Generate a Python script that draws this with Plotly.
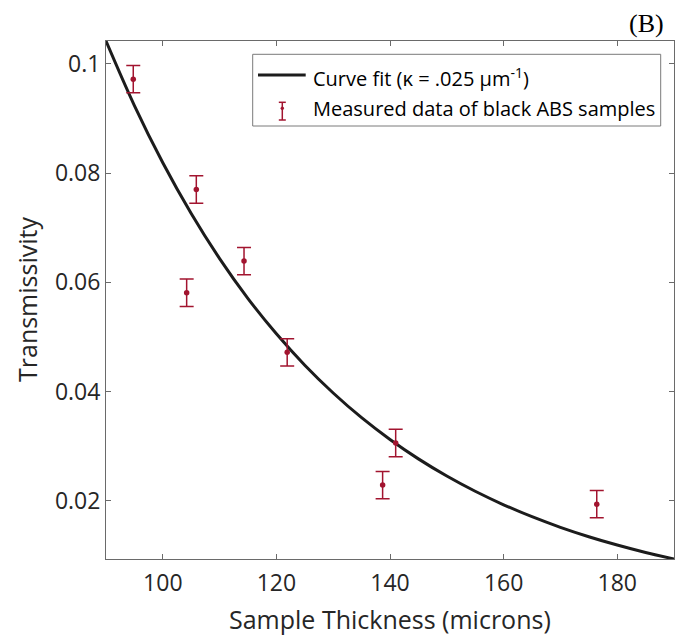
import plotly.graph_objects as go

# ---- data ----
thickness = [94.8, 104.2, 105.9, 114.3, 121.9, 138.7, 141.0, 176.4]
transmissivity = [0.0972, 0.0581, 0.0770, 0.0639, 0.0472, 0.0229, 0.0306, 0.0194]
errors = [0.0025, 0.0025, 0.0025, 0.0025, 0.0025, 0.0025, 0.0025, 0.0025]

fit_x = [90, 95, 100, 105, 110, 115, 120, 125, 130, 135, 140,
         145, 150, 155, 160, 165, 170, 175, 180, 185, 190]
fit_y = [0.10419, 0.09237, 0.08190, 0.07261, 0.06436, 0.05704, 0.05058,
         0.04483, 0.03975, 0.03523, 0.03124, 0.02769, 0.02455, 0.02176,
         0.01929, 0.01710, 0.01516, 0.01344, 0.01192, 0.01056, 0.00936]

x_ticks = [100, 120, 140, 160, 180]
y_ticks = [0.02, 0.04, 0.06, 0.08, 0.1]
y_tick_labels = ["0.02", "0.04", "0.06", "0.08", "0.1"]

legend_labels = ["Curve fit (\u03ba = .025 \u03bcm<sup>-1</sup>)",
                 "Measured data of black ABS samples"]

RED = "rgb(162,20,47)"
CURVE = "#1c1c1c"
AXIS = "#6a6a6a"
TXT = "#262626"
FONT = "Open Sans"

W, H = 683, 638
L, R, T, B = 106, 9, 41, 79
PW, PH = W - L - R, H - T - B


def px(xp):
    return (xp - L) / PW


def py(yp):
    return (H - B - yp) / PH


fig = go.Figure()

fig.add_trace(go.Scatter(
    x=fit_x, y=fit_y, mode="lines", line=dict(color=CURVE, width=3, shape="spline"),
    showlegend=False, hoverinfo="skip"))

fig.add_trace(go.Scatter(
    x=thickness, y=transmissivity, mode="markers",
    marker=dict(color=RED, size=5.5),
    error_y=dict(type="data", array=errors, visible=True, color=RED,
                 thickness=1.5, width=7),
    showlegend=False))

axis_common = dict(
    showgrid=False, zeroline=False, showline=True, linecolor=AXIS, linewidth=1,
    mirror="ticks", ticks="inside", ticklen=5, tickcolor=AXIS, tickwidth=1,
    tickfont=dict(family=FONT, size=23, color=TXT))

fig.update_xaxes(range=[90, 190], tickvals=x_ticks, ticklabelstandoff=3,
                 **axis_common)
fig.update_yaxes(range=[min(fit_y), max(fit_y)], tickvals=y_ticks,
                 ticktext=y_tick_labels, **axis_common)

shapes = []
annotations = []

# legend box
shapes.append(dict(type="rect", xref="paper", yref="paper",
                   x0=px(252.7), x1=px(660.7), y0=py(126), y1=py(54.3),
                   line=dict(color="#7a7a7a", width=1), fillcolor="white",
                   layer="above"))
# legend line sample
shapes.append(dict(type="line", xref="paper", yref="paper",
                   x0=px(258), x1=px(305.7), y0=py(75), y1=py(75),
                   line=dict(color=CURVE, width=3), layer="above"))
# legend errorbar sample
shapes.append(dict(type="line", xref="paper", yref="paper",
                   x0=px(282.3), x1=px(282.3), y0=py(102.3), y1=py(120),
                   line=dict(color=RED, width=1.5), layer="above"))
for yy in (102.3, 120):
    shapes.append(dict(type="line", xref="paper", yref="paper",
                       x0=px(278.8), x1=px(285.8), y0=py(yy), y1=py(yy),
                       line=dict(color=RED, width=1.5), layer="above"))
shapes.append(dict(type="circle", xref="paper", yref="paper",
                   x0=px(281), x1=px(283.6), y0=py(109.6), y1=py(107),
                   line=dict(color=RED, width=1), fillcolor=RED, layer="above"))

annotations.append(dict(xref="paper", yref="paper", x=px(311), y=py(78),
                        xanchor="left", yanchor="middle", showarrow=False,
                        text=legend_labels[0],
                        font=dict(family=FONT, size=20, color="black")))
annotations.append(dict(xref="paper", yref="paper", x=px(311), y=py(108.5),
                        xanchor="left", yanchor="middle", showarrow=False,
                        text=legend_labels[1],
                        font=dict(family=FONT, size=20, color="black")))

# axis titles
annotations.append(dict(xref="paper", yref="paper", x=px(390), y=py(619),
                        xanchor="center", yanchor="middle", showarrow=False,
                        text="Sample Thickness (microns)",
                        font=dict(family=FONT, size=25, color=TXT)))
annotations.append(dict(xref="paper", yref="paper", x=px(27), y=py(300),
                        xanchor="center", yanchor="middle", showarrow=False,
                        text="Transmissivity", textangle=-90,
                        font=dict(family=FONT, size=25, color=TXT)))
# panel label
annotations.append(dict(xref="paper", yref="paper", x=px(646), y=py(23),
                        xanchor="center", yanchor="middle", showarrow=False,
                        text="(B)",
                        font=dict(family="Liberation Serif", size=26, color="black")))

fig.update_layout(
    width=W, height=H, margin=dict(l=L, r=R, t=T, b=B),
    paper_bgcolor="white", plot_bgcolor="white",
    shapes=shapes, annotations=annotations, showlegend=False)

fig.write_html("out.html")
